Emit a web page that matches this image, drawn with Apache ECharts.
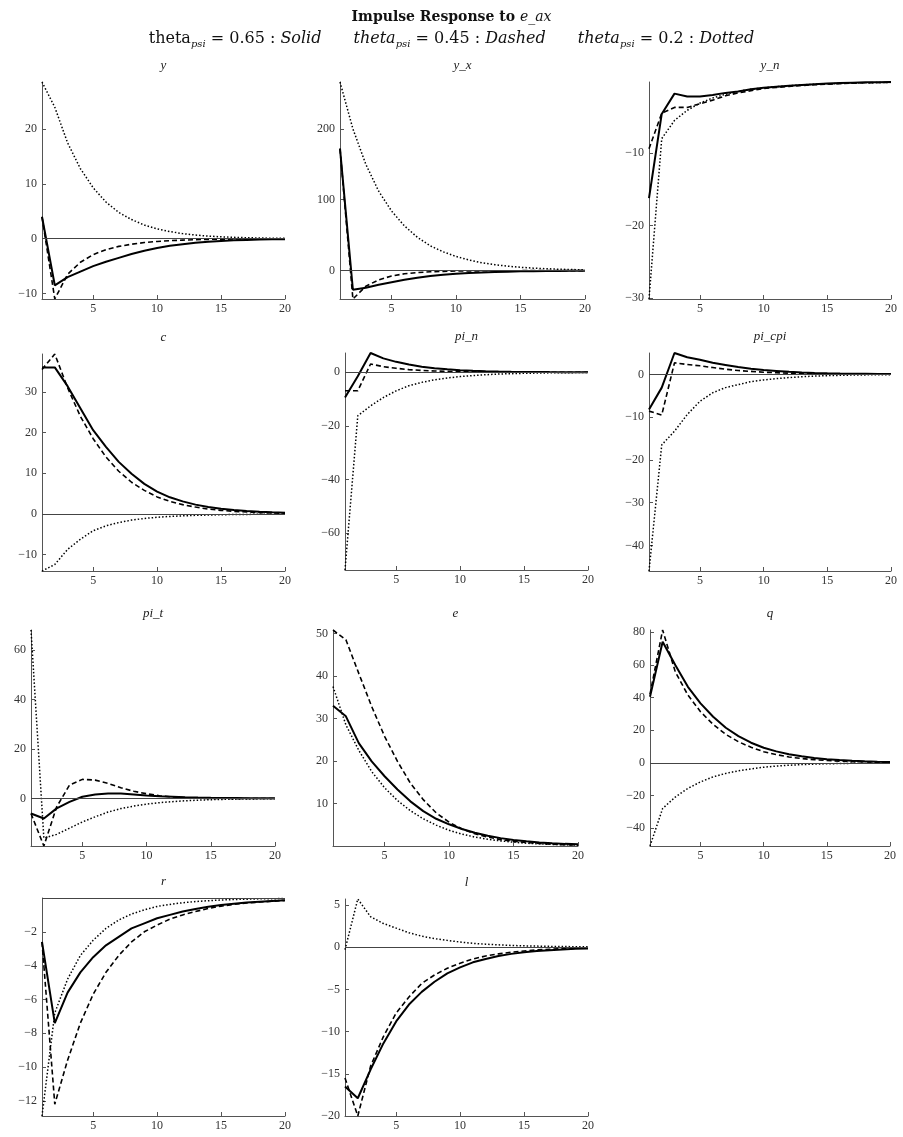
<!DOCTYPE html>
<html>
<head>
<meta charset="utf-8">
<title>Impulse Response to e_ax</title>
<script src="https://cdn.jsdelivr.net/npm/echarts@6.0.0/dist/echarts.min.js"></script>
<style>
html, body { margin: 0; padding: 0; background: #fff; }
#main { width: 903px; height: 1137px; }
</style>
</head>
<body>
<div id="main"></div>
<script>
// periods after the shock
var periods = [1, 2, 3, 4, 5, 6, 7, 8, 9, 10, 11, 12, 13, 14, 15, 16, 17, 18, 19, 20];
var xTicks = [5, 10, 15, 20];

// theta_psi = 0.65 (solid), 0.45 (dashed), 0.2 (dotted)
var y_solid  = [4, -8.5, -7, -6, -5, -4.2, -3.5, -2.8, -2.2, -1.7, -1.3, -1.0, -0.75, -0.55, -0.4, -0.3, -0.22, -0.16, -0.11, -0.08];
var y_dashed = [4, -11, -6.5, -4.3, -2.9, -2.0, -1.4, -1.0, -0.7, -0.5, -0.35, -0.25, -0.18, -0.12, -0.08, -0.06, -0.04, -0.03, -0.02, -0.01];
var y_dotted = [28.6, 24, 17.5, 12.8, 9.3, 6.7, 4.8, 3.5, 2.5, 1.8, 1.3, 0.93, 0.67, 0.48, 0.35, 0.25, 0.18, 0.13, 0.09, 0.07];
var y_lim = [-11, 28.6];
var y_ticks = [-10, 0, 10, 20];

var yx_solid  = [172, -27, -24, -20, -16.5, -13, -10, -7.7, -5.8, -4.4, -3.3, -2.5, -1.8, -1.4, -1, -0.75, -0.55, -0.4, -0.3, -0.2];
var yx_dashed = [172, -40, -22, -13, -7.5, -4.5, -2.7, -1.6, -1, -0.6, -0.4, -0.25, -0.15, -0.1, -0.06, -0.04, -0.02, -0.01, 0, 0];
var yx_dotted = [266, 200, 150, 112, 84, 63, 47, 35, 26.5, 20, 15, 11, 8.4, 6.3, 4.7, 3.5, 2.7, 2, 1.5, 1.1];
var yx_lim = [-40, 266];
var yx_ticks = [0, 100, 200];

var yn_solid  = [-16.2, -4.6, -1.8, -2.2, -2.2, -2.0, -1.7, -1.5, -1.2, -1.0, -0.85, -0.7, -0.6, -0.5, -0.42, -0.35, -0.3, -0.25, -0.22, -0.2];
var yn_dashed = [-9.4, -4.5, -3.7, -3.7, -3.2, -2.7, -2.1, -1.7, -1.4, -1.1, -0.95, -0.8, -0.68, -0.58, -0.5, -0.42, -0.36, -0.31, -0.27, -0.24];
var yn_dotted = [-30.1, -8.0, -5.5, -4.1, -3.1, -2.4, -1.9, -1.5, -1.2, -1.0, -0.85, -0.7, -0.6, -0.5, -0.45, -0.4, -0.35, -0.3, -0.28, -0.25];
var yn_lim = [-30.1, -0.2];
var yn_ticks = [-30, -20, -10];

var c_solid  = [36, 36, 31.4, 26, 20.6, 16.5, 12.8, 9.9, 7.4, 5.5, 4.1, 3.1, 2.3, 1.7, 1.3, 1.0, 0.75, 0.55, 0.4, 0.3];
var c_dashed = [35.5, 39.3, 31, 24, 18.5, 14, 10.5, 7.8, 5.8, 4.2, 3.1, 2.3, 1.7, 1.2, 0.9, 0.65, 0.5, 0.35, 0.25, 0.18];
var c_dotted = [-14, -12.4, -8.7, -6.2, -4.1, -2.9, -2.1, -1.5, -1.1, -0.8, -0.6, -0.45, -0.33, -0.25, -0.18, -0.13, -0.1, -0.07, -0.05, -0.04];
var c_lim = [-14, 39.3];
var c_ticks = [-10, 0, 10, 20, 30];

var pin_solid  = [-9.4, -1.5, 7.2, 5.2, 3.9, 2.9, 2.1, 1.5, 1.1, 0.8, 0.55, 0.4, 0.3, 0.22, 0.16, 0.12, 0.08, 0.06, 0.04, 0.03];
var pin_dashed = [-6.9, -6.9, 3.1, 2.1, 1.5, 1.0, 0.7, 0.5, 0.35, 0.25, 0.18, 0.13, 0.09, 0.06, 0.04, 0.03, 0.02, 0.015, 0.01, 0.01];
var pin_dotted = [-73.7, -16.2, -12.5, -9.4, -6.9, -5.0, -3.75, -2.8, -2.1, -1.6, -1.2, -0.9, -0.65, -0.5, -0.37, -0.28, -0.2, -0.15, -0.11, -0.08];
var pin_lim = [-73.7, 7.2];
var pin_ticks = [-60, -40, -20, 0];

var picpi_solid  = [-8.2, -3.1, 5, 4.0, 3.4, 2.7, 2.2, 1.7, 1.3, 1.0, 0.8, 0.6, 0.45, 0.35, 0.27, 0.2, 0.15, 0.12, 0.09, 0.07];
var picpi_dashed = [-8.6, -9.5, 2.7, 2.3, 2.0, 1.6, 1.2, 0.9, 0.7, 0.5, 0.38, 0.28, 0.2, 0.15, 0.11, 0.08, 0.06, 0.045, 0.03, 0.025];
var picpi_dotted = [-46, -16.5, -13.3, -9.4, -6.3, -4.3, -3.1, -2.4, -1.7, -1.3, -1.0, -0.75, -0.55, -0.4, -0.3, -0.22, -0.16, -0.12, -0.09, -0.07];
var picpi_lim = [-46, 5];
var picpi_ticks = [-40, -30, -20, -10, 0];

var pit_solid  = [-6.1, -8.1, -4.0, -1.4, 0.7, 1.6, 2.0, 2.0, 1.6, 1.2, 0.9, 0.7, 0.5, 0.38, 0.28, 0.2, 0.15, 0.1, 0.08, 0.06];
var pit_dashed = [-6.1, -19.2, -3.4, 5.4, 7.7, 7.4, 6.1, 4.3, 2.9, 1.9, 1.1, 0.6, 0.3, 0.1, 0.0, -0.05, -0.06, -0.05, -0.04, -0.03];
var pit_dotted = [68, -16, -14.5, -12, -9.5, -7.4, -5.5, -4.1, -3.1, -2.3, -1.7, -1.3, -0.95, -0.7, -0.5, -0.38, -0.28, -0.2, -0.15, -0.1];
var pit_lim = [-19.2, 68];
var pit_ticks = [0, 20, 40, 60];

var e_solid  = [33, 30.5, 24.2, 19.9, 16.4, 13.3, 10.5, 8.2, 6.4, 5.1, 4.0, 3.1, 2.4, 1.85, 1.4, 1.1, 0.85, 0.65, 0.5, 0.4];
var e_dashed = [50.8, 48.5, 40.6, 32.8, 25.8, 19.9, 14.8, 10.9, 7.8, 5.6, 4.0, 2.9, 2.1, 1.5, 1.1, 0.8, 0.6, 0.4, 0.3, 0.2];
var e_dotted = [37.5, 28.5, 22.5, 17.5, 13.7, 10.7, 8.3, 6.4, 4.9, 3.7, 2.8, 2.1, 1.6, 1.2, 0.9, 0.65, 0.5, 0.37, 0.28, 0.2];
var e_lim = [0, 50.8];
var e_ticks = [10, 20, 30, 40, 50];

var q_solid  = [40.5, 74.2, 59.9, 46.6, 36.4, 28.2, 21.5, 16.4, 12.3, 9.2, 7.0, 5.3, 4.0, 3.0, 2.2, 1.7, 1.3, 0.95, 0.7, 0.5];
var q_dashed = [42, 81.4, 55.8, 41.5, 31.3, 23.5, 17.4, 12.9, 9.5, 6.8, 5.0, 3.6, 2.6, 1.9, 1.4, 1.0, 0.7, 0.5, 0.36, 0.26];
var q_dotted = [-51, -28, -21, -15.7, -11.7, -8.6, -6.5, -4.9, -3.7, -2.7, -2.0, -1.5, -1.1, -0.8, -0.6, -0.45, -0.33, -0.25, -0.18, -0.13];
var q_lim = [-51, 81.4];
var q_ticks = [-40, -20, 0, 20, 40, 60, 80];

var r_solid  = [-2.6, -7.4, -5.6, -4.4, -3.5, -2.8, -2.3, -1.8, -1.5, -1.2, -1.0, -0.8, -0.65, -0.52, -0.42, -0.34, -0.27, -0.22, -0.18, -0.14];
var r_dashed = [-2.6, -12.2, -9.6, -7.4, -5.7, -4.4, -3.4, -2.6, -2.0, -1.6, -1.25, -1.0, -0.8, -0.62, -0.48, -0.38, -0.3, -0.24, -0.19, -0.15];
var r_dotted = [-12.9, -6.8, -4.8, -3.4, -2.5, -1.8, -1.3, -0.95, -0.7, -0.5, -0.38, -0.28, -0.21, -0.16, -0.12, -0.09, -0.07, -0.05, -0.04, -0.03];
var r_lim = [-12.9, 0];
var r_ticks = [-12, -10, -8, -6, -4, -2];

var l_solid  = [-16.5, -17.9, -14.5, -11.4, -8.8, -6.8, -5.3, -4.1, -3.1, -2.4, -1.8, -1.4, -1.05, -0.8, -0.6, -0.47, -0.36, -0.27, -0.2, -0.15];
var l_dashed = [-15.5, -20, -14.1, -10.6, -7.8, -5.9, -4.3, -3.3, -2.5, -1.9, -1.4, -1.05, -0.8, -0.6, -0.45, -0.33, -0.25, -0.18, -0.14, -0.1];
var l_dotted = [-0.3, 5.7, 3.6, 2.8, 2.25, 1.7, 1.3, 1.0, 0.8, 0.6, 0.45, 0.35, 0.27, 0.2, 0.15, 0.12, 0.09, 0.07, 0.05, 0.04];
var l_lim = [-20, 5.7];
var l_ticks = [-20, -15, -10, -5, 0, 5];

var panels = [
    { name: 'y',      s: y_solid,     d: y_dashed,     o: y_dotted,     lim: y_lim,     ticks: y_ticks },
    { name: 'y_x',    s: yx_solid,    d: yx_dashed,    o: yx_dotted,    lim: yx_lim,    ticks: yx_ticks },
    { name: 'y_n',    s: yn_solid,    d: yn_dashed,    o: yn_dotted,    lim: yn_lim,    ticks: yn_ticks },
    { name: 'c',      s: c_solid,     d: c_dashed,     o: c_dotted,     lim: c_lim,     ticks: c_ticks },
    { name: 'pi_n',   s: pin_solid,   d: pin_dashed,   o: pin_dotted,   lim: pin_lim,   ticks: pin_ticks },
    { name: 'pi_cpi', s: picpi_solid, d: picpi_dashed, o: picpi_dotted, lim: picpi_lim, ticks: picpi_ticks },
    { name: 'pi_t',   s: pit_solid,   d: pit_dashed,   o: pit_dotted,   lim: pit_lim,   ticks: pit_ticks },
    { name: 'e',      s: e_solid,     d: e_dashed,     o: e_dotted,     lim: e_lim,     ticks: e_ticks },
    { name: 'q',      s: q_solid,     d: q_dashed,     o: q_dotted,     lim: q_lim,     ticks: q_ticks },
    { name: 'r',      s: r_solid,     d: r_dashed,     o: r_dotted,     lim: r_lim,     ticks: r_ticks },
    { name: 'l',      s: l_solid,     d: l_dashed,     o: l_dotted,     lim: l_lim,     ticks: l_ticks }
];

// plot boxes: left, top, width, height (px)
var boxes = [
    [42, 82, 243, 217], [340, 82, 245, 217], [649, 82, 242, 217],
    [42, 354, 243, 217], [345, 353, 243, 217], [649, 353, 242, 218],
    [31, 630, 244, 216], [333, 630, 245, 216], [650, 630, 240, 216],
    [42, 898, 243, 218], [345, 899, 243, 217]
];

var FONT = 'Liberation Serif';
var TITLE_FONT = 'DejaVu Serif';
var axisColor = '#555';
var labelColor = '#333';

var chartDom = document.getElementById('main');
var myChart = echarts.init(chartDom);
var option;

var grids = [], xAxes = [], yAxes = [], series = [], graphics = [];

function toPairs(arr) {
    return periods.map(function (x, k) { return [x, arr[k]]; });
}
function minusSign(v) {
    return String(v).replace('-', '\u2212');
}

panels.forEach(function (p, i) {
    var b = boxes[i];
    grids.push({ left: b[0], top: b[1], width: b[2], height: b[3], containLabel: false });
    xAxes.push({
        type: 'value', gridIndex: i, min: 1, max: 20,
        axisLine: { show: true, onZero: false, lineStyle: { color: axisColor, width: 1 } },
        axisTick: { show: true, inside: true, length: 4, customValues: xTicks, lineStyle: { color: axisColor } },
        axisLabel: { customValues: xTicks, color: labelColor, fontFamily: FONT, fontSize: 12, margin: 4 },
        splitLine: { show: false }
    });
    yAxes.push({
        type: 'value', gridIndex: i, min: p.lim[0], max: p.lim[1],
        axisLine: { show: true, onZero: false, lineStyle: { color: axisColor, width: 1 } },
        axisTick: { show: true, inside: true, length: 4, customValues: p.ticks, lineStyle: { color: axisColor } },
        axisLabel: { customValues: p.ticks, color: labelColor, fontFamily: FONT, fontSize: 12, margin: 5, formatter: minusSign },
        splitLine: { show: false }
    });

    var zeroLine = (p.lim[0] < 0 && p.lim[1] >= 0) ? {
        silent: true, symbol: ['none', 'none'], label: { show: false },
        lineStyle: { color: '#444', width: 1, type: 'solid' },
        emphasis: { disabled: true },
        data: [{ yAxis: 0 }]
    } : undefined;

    series.push({
        type: 'line', xAxisIndex: i, yAxisIndex: i, data: toPairs(p.s),
        showSymbol: false, symbol: 'none', silent: true,
        lineStyle: { color: '#000', width: 2, type: 'solid' },
        markLine: zeroLine
    });
    series.push({
        type: 'line', xAxisIndex: i, yAxisIndex: i, data: toPairs(p.d),
        showSymbol: false, symbol: 'none', silent: true,
        lineStyle: { color: '#000', width: 1.6, type: [5, 3] }
    });
    series.push({
        type: 'line', xAxisIndex: i, yAxisIndex: i, data: toPairs(p.o),
        showSymbol: false, symbol: 'none', silent: true,
        lineStyle: { color: '#000', width: 1.5, type: [1.5, 2] }
    });

    graphics.push({
        type: 'text', x: b[0] + b[2] / 2, y: b[1] - 16,
        style: {
            text: p.name, fill: '#222', font: 'italic 13px "' + FONT + '"',
            align: 'center', verticalAlign: 'middle'
        }
    });
});

option = {
    animation: false,
    backgroundColor: '#fff',
    textStyle: { fontFamily: FONT },
    title: [
        {
            left: 'center', top: 5,
            text: '{b|Impulse Response to }{m|e_ax}',
            textStyle: {
                rich: {
                    b: { fontFamily: TITLE_FONT, fontWeight: 'bold', fontSize: 14, color: '#111' },
                    m: { fontFamily: TITLE_FONT, fontWeight: 'normal', fontStyle: 'italic', fontSize: 14, color: '#111' }
                }
            }
        },
        {
            left: 'center', top: 24,
            text: '{n|theta}{s|psi}{n| = 0.65 : }{i|Solid}{g|}{i|theta}{s|psi}{n| = 0.45 : }{i|Dashed}{g|}{i|theta}{s|psi}{n| = 0.2 : }{i|Dotted}',
            textStyle: {
                rich: {
                    n: { fontFamily: TITLE_FONT, fontWeight: 'normal', fontSize: 16, color: '#111' },
                    i: { fontFamily: TITLE_FONT, fontWeight: 'normal', fontStyle: 'italic', fontSize: 16, color: '#111' },
                    s: { fontFamily: TITLE_FONT, fontWeight: 'normal', fontStyle: 'italic', fontSize: 10, color: '#111', padding: [10, 0, 0, 0] },
                    g: { width: 32 }
                }
            }
        }
    ],
    grid: grids,
    xAxis: xAxes,
    yAxis: yAxes,
    series: series,
    graphic: graphics
};

option && myChart.setOption(option);
</script>
</body>
</html>
